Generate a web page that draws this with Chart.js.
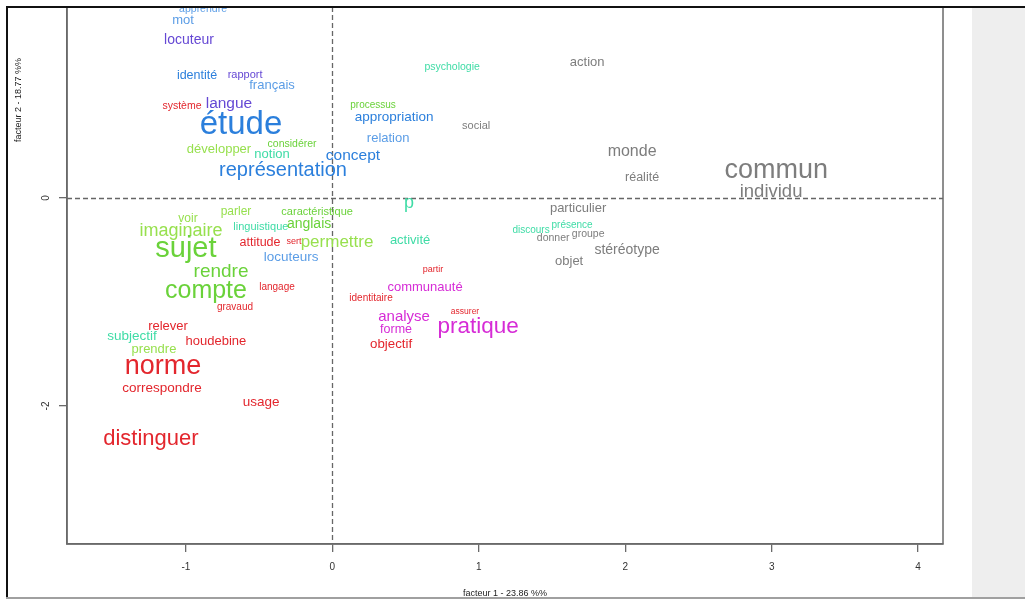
<!DOCTYPE html>
<html lang="fr">
<head>
<meta charset="utf-8">
<title>Analyse factorielle des correspondances – plan factoriel 1-2</title>
<script src="https://cdn.jsdelivr.net/npm/chart.js@4.4.1/dist/chart.umd.min.js"></script>
<style>
  html, body { margin: 0; padding: 0; background: #ffffff; }
  body { width: 1025px; height: 603px; position: relative; overflow: hidden; }
  #plot { position: absolute; left: 0; top: 0; }
  .frame-top { position: absolute; left: 6px; top: 6px; width: 1019px; height: 2px; background: #111; }
  .frame-left { position: absolute; left: 6px; top: 6px; width: 2px; height: 592px; background: #111; }
  .side-panel { position: absolute; left: 972px; top: 8px; width: 53px; height: 590px; background: #eeeeee; }
  .frame-bottom { position: absolute; left: 6px; top: 597px; width: 1019px; height: 2px; background: #a0a0a0; }
</style>
</head>
<body>
<canvas id="plot" width="972" height="598"></canvas>
<div class="side-panel"></div>
<div class="frame-top"></div>
<div class="frame-left"></div>
<div class="frame-bottom"></div>
<script>
// Words projected on the first factorial plane
const words = [
  "apprendre", "mot", "locuteur", "identité", "rapport", "français", "système", "langue",
  "étude", "développer", "considérer", "notion", "concept", "représentation",
  "psychologie", "processus", "appropriation", "relation", "social", "action",
  "monde", "réalité", "commun", "individu", "particulier", "discours", "présence",
  "donner", "groupe", "stéréotype", "objet", "p", "caractéristique", "parler", "voir",
  "imaginaire", "linguistique", "anglais", "sujet", "attitude", "sert", "permettre",
  "activité", "locuteurs", "rendre", "compte", "langage", "gravaud", "relever",
  "subjectif", "houdebine", "prendre", "norme", "correspondre", "usage", "distinguer",
  "partir", "communauté", "identitaire", "analyse", "assurer", "forme", "pratique", "objectif"
];

// Coordinates on factor 1
const factor1 = [
  -0.883, -1.019, -0.979, -0.924, -0.596, -0.412, -1.027, -0.706,
  -0.624, -0.774, -0.275, -0.412, 0.141, -0.337,
  0.818, 0.278, 0.422, 0.381, 0.982, 1.740,
  2.047, 2.115, 3.031, 2.996, 1.678, 1.357, 1.637,
  1.508, 1.747, 2.013, 1.617, 0.524, -0.104, -0.658, -0.986,
  -1.034, -0.488, -0.159, -1.000, -0.494, -0.262, 0.032,
  0.531, -0.282, -0.760, -0.863, -0.378, -0.665, -1.122,
  -1.368, -0.795, -1.218, -1.156, -1.163, -0.487, -1.239,
  0.688, 0.633, 0.264, 0.490, 0.906, 0.435, 0.995, 0.401
];

// Coordinates on factor 2
const factor2 = [
  1.815, 1.712, 1.519, 1.173, 1.183, 1.087, 0.885, 0.904,
  0.702, 0.471, 0.519, 0.423, 0.404, 0.260,
  1.260, 0.894, 0.779, 0.577, 0.692, 1.308,
  0.442, 0.192, 0.260, 0.058, -0.096, -0.308, -0.260,
  -0.385, -0.346, -0.500, -0.606, -0.048, -0.135, -0.135, -0.202,
  -0.317, -0.279, -0.250, -0.490, -0.433, -0.423, -0.423,
  -0.404, -0.567, -0.712, -0.894, -0.856, -1.048, -1.231,
  -1.327, -1.375, -1.452, -1.625, -1.827, -1.962, -2.317,
  -0.683, -0.856, -0.962, -1.144, -1.096, -1.269, -1.240, -1.404
];

// Cluster of each word
const cluster = [
  "lightblue", "lightblue", "purple", "blue", "purple", "lightblue", "red", "purple",
  "blue", "lime", "green", "aqua", "blue", "blue",
  "aqua", "green", "blue", "lightblue", "gray", "gray",
  "gray", "gray", "gray", "gray", "gray", "aqua", "aqua",
  "gray", "gray", "gray", "gray", "aqua", "green", "lime", "lime",
  "lime", "aqua", "green", "green", "red", "red", "lime",
  "aqua", "lightblue", "green", "green", "red", "red", "red",
  "aqua", "red", "lime", "red", "red", "red", "red",
  "red", "magenta", "red", "magenta", "red", "magenta", "magenta", "red"
];

// Axis ticks
const xTicks = [-1, 0, 1, 2, 3, 4];
const yTicks = [-2, 0];
const xTitle = "facteur 1 - 23.86 %%";
const yTitle = "facteur 2 - 18.77 %%";

// Styles: text size of each word (px) and cluster colours
const wordPx = [
  10.5, 13, 14, 12.5, 11, 13, 10.5, 15.5,
  33, 13, 10.5, 13, 15.5, 20,
  10.5, 10, 13.5, 13, 11, 13,
  16, 12.5, 27, 18.5, 13, 10, 10,
  10.5, 10.5, 14, 13, 18, 11, 12, 12,
  18, 11, 14, 29, 12.5, 9, 17,
  13, 13.5, 19, 25, 10, 10, 13,
  13.5, 13, 13, 27, 13.5, 13.5, 22,
  9, 13, 10, 15, 8.5, 12.5, 22.5, 13.3
];
const clusterColors = {
  red: "#e3262d",
  green: "#6ad23a",
  lime: "#97e04e",
  aqua: "#3fdca6",
  blue: "#2b7fdc",
  lightblue: "#5b9de6",
  purple: "#6548d4",
  magenta: "#d62bd6",
  gray: "#7d7d7d"
};

const FONT = "'Liberation Sans', Arial, Helvetica, sans-serif";

const wordLabels = {
  id: "wordLabels",
  beforeDatasetsDraw(chart) {
    const { ctx, chartArea: a, scales: { x, y } } = chart;
    ctx.save();
    // dashed reference lines through the origin
    ctx.strokeStyle = "#666666";
    ctx.lineWidth = 1.3;
    ctx.setLineDash([5, 3]);
    const x0 = Math.round(x.getPixelForValue(0)) + 0.5;
    const y0 = Math.round(y.getPixelForValue(0)) + 0.5;
    ctx.beginPath();
    ctx.moveTo(x0, a.top); ctx.lineTo(x0, a.bottom);
    ctx.moveTo(a.left, y0); ctx.lineTo(a.right, y0);
    ctx.stroke();
    ctx.restore();
  },
  afterDatasetsDraw(chart) {
    const { ctx, chartArea: a } = chart;
    const meta = chart.getDatasetMeta(0);
    ctx.save();
    ctx.beginPath();
    ctx.rect(a.left, a.top, a.right - a.left, a.bottom - a.top);
    ctx.clip();
    ctx.textAlign = "center";
    ctx.textBaseline = "middle";
    meta.data.forEach((pt, i) => {
      ctx.font = wordPx[i] + "px " + FONT;
      ctx.fillStyle = clusterColors[cluster[i]];
      ctx.fillText(words[i], pt.x, pt.y);
    });
    ctx.restore();
  },
  afterDraw(chart) {
    const { ctx, chartArea: a, scales: { y } } = chart;
    ctx.save();
    // plot box
    ctx.strokeStyle = "#6a6a6a";
    ctx.lineWidth = 1.5;
    ctx.strokeRect(a.left, a.top, a.right - a.left, a.bottom - a.top);
    // rotated y tick labels
    ctx.fillStyle = "#333";
    ctx.font = "10px " + FONT;
    ctx.textAlign = "center";
    ctx.textBaseline = "middle";
    yTicks.forEach(v => {
      ctx.save();
      ctx.translate(46, y.getPixelForValue(v));
      ctx.rotate(-Math.PI / 2);
      ctx.fillText(String(v), 0, 0);
      ctx.restore();
    });
    // axis titles
    ctx.font = "9px " + FONT;
    ctx.fillStyle = "#222";
    ctx.fillText(xTitle, (a.left + a.right) / 2, 594);
    ctx.save();
    ctx.translate(19, 100);
    ctx.rotate(-Math.PI / 2);
    ctx.fillText(yTitle, 0, 0);
    ctx.restore();
    ctx.restore();
  }
};

new Chart(document.getElementById("plot"), {
  type: "scatter",
  data: {
    datasets: [{
      data: words.map((w, i) => ({ x: factor1[i], y: factor2[i] })),
      pointRadius: 0,
      pointHoverRadius: 0
    }]
  },
  options: {
    responsive: false,
    animation: false,
    devicePixelRatio: 1,
    events: [],
    layout: { padding: { top: 7, right: 29, left: 0, bottom: 0 } },
    plugins: { legend: { display: false }, tooltip: { enabled: false } },
    scales: {
      x: {
        type: "linear",
        min: -1.812,
        max: 4.17,
        afterBuildTicks: s => { s.ticks = xTicks.map(v => ({ value: v })); },
        afterFit: s => { s.height = 54; },
        ticks: {
          color: "#333",
          font: { family: FONT, size: 10 },
          padding: 9,
          maxRotation: 0,
          callback: v => String(v)
        },
        grid: { drawOnChartArea: false, drawTicks: true, tickLength: 8, color: "#6a6a6a", lineWidth: 1.3 },
        border: { display: true, color: "#6a6a6a", width: 1.5 }
      },
      y: {
        type: "linear",
        min: -3.327,
        max: 1.8365,
        afterBuildTicks: s => { s.ticks = yTicks.map(v => ({ value: v })); },
        afterFit: s => { s.width = 67; },
        ticks: { display: false },
        grid: { drawOnChartArea: false, drawTicks: true, tickLength: 8, color: "#6a6a6a", lineWidth: 1.3 },
        border: { display: true, color: "#6a6a6a", width: 1.5 }
      }
    }
  },
  plugins: [wordLabels]
});
</script>
</body>
</html>
